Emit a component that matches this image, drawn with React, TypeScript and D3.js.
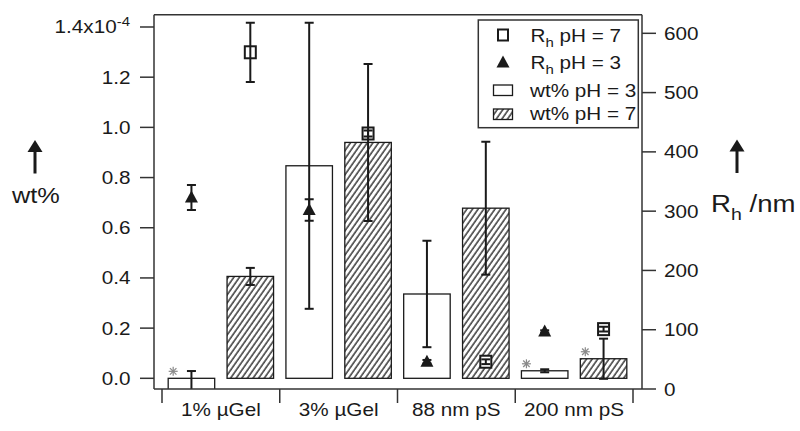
import React from "react";
import * as d3 from "d3";

const categories = ["1% µGel", "3% µGel", "88 nm pS", "200 nm pS"];
const seriesKeys = ["pH3", "pH7"];

// wt% (x 1e-4), bars
const wtPH3 = [-0.05, 0.847, 0.336, 0.03];
const wtPH3Err = [0.079, 0.57, 0.212, 0.006];
const wtPH7 = [0.406, 0.94, 0.678, 0.078];
const wtPH7Err = [0.034, 0.313, 0.265, 0.08];

// Rh /nm, markers on right axis
const rhPH3 = [323, 302, 46, 97];
const rhPH3Err = [21, 18, 3, 2];
const rhPH7 = [568, 431, 46, 101];
const rhPH7Err = [50, 5, 4, 4];

const leftTicks = [0, 0.2, 0.4, 0.6, 0.8, 1.0, 1.2, 1.4];
const rightTicks = [0, 100, 200, 300, 400, 500, 600];

// bars flagged with an asterisk
const starred = [
  { cat: 0, series: "pH3" },
  { cat: 3, series: "pH3" },
  { cat: 3, series: "pH7" }
];

const W = 800;
const H = 431;
const plot = { left: 154, right: 642, top: 14.7, bottom: 389 };
const FONT = "'Liberation Sans', Arial, sans-serif";
const INK = "#1a1a1a";
const SX = 1.15;

function Label({ x, y, size = 18, anchor = "start", children }: any) {
  return (
    <text
      transform={`translate(${x},${y}) scale(${SX},1)`}
      fontSize={size}
      fontFamily={FONT}
      textAnchor={anchor}
      fill={INK}
    >
      {children}
    </text>
  );
}

function Arrow({ x, y }: { x: number; y: number }) {
  return (
    <g fill={INK}>
      <path d={`M${x},${y} L${x - 7.5},${y + 12} L${x + 7.5},${y + 12} Z`} />
      <rect x={x - 1.5} y={y + 10} width={3} height={23.5} />
    </g>
  );
}

function ErrorBar({ x, y0, y1 }: { x: number; y0: number; y1: number }) {
  return (
    <g stroke={INK} strokeWidth={2}>
      <line x1={x} x2={x} y1={y0} y2={y1} />
      <line x1={x - 4.5} x2={x + 4.5} y1={y0} y2={y0} />
      <line x1={x - 4.5} x2={x + 4.5} y1={y1} y2={y1} />
    </g>
  );
}

function Square({ x, y }: { x: number; y: number }) {
  return <rect x={x - 5.5} y={y - 6} width={11} height={12} fill="#fff" stroke={INK} strokeWidth={2} />;
}

function Triangle({ x, y }: { x: number; y: number }) {
  return <path d={`M${x},${y - 7} L${x + 6.5},${y + 5} L${x - 6.5},${y + 5} Z`} fill={INK} />;
}

function Star({ x, y }: { x: number; y: number }) {
  const r = 4.5;
  const d = r * 0.72;
  return (
    <g stroke="#8a8a8a" strokeWidth={1.2}>
      <line x1={x - r} x2={x + r} y1={y} y2={y} />
      <line x1={x} x2={x} y1={y - r} y2={y + r} />
      <line x1={x - d} x2={x + d} y1={y - d} y2={y + d} />
      <line x1={x - d} x2={x + d} y1={y + d} y2={y - d} />
    </g>
  );
}

export default function App() {
  const x0 = d3.scaleBand<string>().domain(categories).range([162, 633]).padding(0);
  const x1 = d3
    .scaleBand<string>()
    .domain(seriesKeys)
    .range([0, x0.bandwidth()])
    .paddingInner(0.21)
    .paddingOuter(0.105);
  const yL = d3.scaleLinear().domain([-0.0426, 1.449]).range([plot.bottom, plot.top]);
  const yR = d3.scaleLinear().domain([0, 631.4]).range([plot.bottom, plot.top]);

  const bars = categories.flatMap((c, i) => [
    { cat: i, series: "pH3", value: wtPH3[i], err: wtPH3Err[i] },
    { cat: i, series: "pH7", value: wtPH7[i], err: wtPH7Err[i] }
  ]);
  const barX = (cat: number, s: string) => (x0(categories[cat]) ?? 0) + (x1(s) ?? 0);
  const barCx = (cat: number, s: string) => barX(cat, s) + x1.bandwidth() / 2;

  const marks = categories.flatMap((c, i) => [
    { cat: i, series: "pH3", value: rhPH3[i], err: rhPH3Err[i] },
    { cat: i, series: "pH7", value: rhPH7[i], err: rhPH7Err[i] }
  ]);

  const boundaries = [...categories.map((c) => x0(c) ?? 0), x0.range()[1]];

  return (
    <svg width={W} height={H} style={{ position: "absolute", left: 0, top: 0, background: "#fff" }}>
      <defs>
        <pattern id="hatch" patternUnits="userSpaceOnUse" width={4.6} height={10} patternTransform="rotate(35)">
          <rect width={4.6} height={10} fill="#fff" />
          <line x1={1} x2={1} y1={0} y2={10} stroke={INK} strokeWidth={1.3} />
        </pattern>
        <clipPath id="plotClip">
          <rect x={plot.left} y={plot.top} width={plot.right - plot.left} height={plot.bottom - plot.top} />
        </clipPath>
      </defs>

      <g clipPath="url(#plotClip)">
        {bars.map((b) => {
          const yv = yL(b.value);
          const y0 = yL(0);
          return (
            <rect
              key={`bar-${b.cat}-${b.series}`}
              x={barX(b.cat, b.series)}
              y={Math.min(yv, y0)}
              width={x1.bandwidth()}
              height={Math.abs(y0 - yv)}
              fill={b.series === "pH7" ? "url(#hatch)" : "#fff"}
              stroke={INK}
              strokeWidth={1.3}
            />
          );
        })}

        {marks
          .filter((m) => m.series === "pH7")
          .map((m) => (
            <Square key={`sq-${m.cat}`} x={barCx(m.cat, m.series)} y={yR(m.value)} />
          ))}

        {bars.map((b) => (
          <ErrorBar
            key={`be-${b.cat}-${b.series}`}
            x={barCx(b.cat, b.series)}
            y0={yL(b.value + b.err)}
            y1={yL(b.value - b.err)}
          />
        ))}

        {marks.map((m) => (
          <ErrorBar
            key={`me-${m.cat}-${m.series}`}
            x={barCx(m.cat, m.series)}
            y0={yR(m.value + m.err)}
            y1={yR(m.value - m.err)}
          />
        ))}

        {marks
          .filter((m) => m.series === "pH3")
          .map((m) => (
            <Triangle key={`tr-${m.cat}`} x={barCx(m.cat, m.series)} y={yR(m.value)} />
          ))}

        {starred.map((s) => {
          const i = s.cat;
          const v = s.series === "pH3" ? wtPH3[i] : wtPH7[i];
          return <Star key={`st-${i}-${s.series}`} x={barX(i, s.series) + 5} y={yL(Math.max(0, v)) - 7} />;
        })}
      </g>

      {/* frame and axes */}
      <g stroke="#333" strokeWidth={1.5} fill="none">
        <line x1={plot.left} x2={plot.right} y1={plot.top} y2={plot.top} />
        <line x1={plot.left} x2={plot.left} y1={plot.top} y2={plot.bottom} />
        <line x1={plot.right} x2={plot.right} y1={plot.top} y2={plot.bottom} />
        <line x1={plot.left} x2={plot.right} y1={plot.bottom} y2={plot.bottom} />
        {leftTicks.map((t) => (
          <line key={`lt-${t}`} x1={plot.left - 14} x2={plot.left} y1={yL(t)} y2={yL(t)} />
        ))}
        {rightTicks.map((t) => (
          <line key={`rt-${t}`} x1={plot.right} x2={plot.right + 14} y1={yR(t)} y2={yR(t)} />
        ))}
        {boundaries.map((bx, i) => (
          <line key={`bt-${i}`} x1={bx} x2={bx} y1={plot.bottom} y2={plot.bottom + 14} />
        ))}
      </g>

      {leftTicks.map((t, i) =>
        i === leftTicks.length - 1 ? (
          <Label key={`ll-${t}`} x={130} y={yL(t) + 6.5} anchor="end">
            {t.toFixed(1)}x10
            <tspan dy={-8} fontSize={13}>-4</tspan>
          </Label>
        ) : (
          <Label key={`ll-${t}`} x={130.5} y={yL(t) + 6.5} anchor="end">
            {t.toFixed(1)}
          </Label>
        )
      )}
      {rightTicks.map((t) => (
        <Label key={`rl-${t}`} x={664} y={yR(t) + 6.5}>
          {t}
        </Label>
      ))}
      {categories.map((c) => (
        <Label key={`cl-${c}`} x={(x0(c) ?? 0) + x0.bandwidth() / 2} y={416} anchor="middle">
          {c}
        </Label>
      ))}

      {/* axis titles */}
      <Arrow x={35} y={140} />
      <Label x={12} y={202.5} size={22}>
        wt%
      </Label>
      <Arrow x={737} y={139.5} />
      <Label x={711} y={211.5} size={24}>
        R<tspan dy={8} fontSize={17}>h</tspan>
        <tspan dy={-8}> /nm</tspan>
      </Label>

      {/* legend */}
      <rect x={478.3} y={20} width={160} height={107.7} fill="#fff" stroke="#333" strokeWidth={1.5} />
      <rect x={498} y={29.5} width={10} height={11} fill="#fff" stroke={INK} strokeWidth={2} />
      <Label x={530.5} y={41.7}>
        R<tspan dy={5} fontSize={13}>h</tspan>
        <tspan dy={-5}> pH = 7</tspan>
      </Label>
      <Triangle x={503} y={62.5} />
      <Label x={530.5} y={69}>
        R<tspan dy={5} fontSize={13}>h</tspan>
        <tspan dy={-5}> pH = 3</tspan>
      </Label>
      <rect x={493.5} y={85} width={19} height={10.5} fill="#fff" stroke={INK} strokeWidth={1.3} />
      <Label x={530} y={96.7}>
        wt% pH = 3
      </Label>
      <rect x={493.5} y={109} width={19} height={10.5} fill="url(#hatch)" stroke={INK} strokeWidth={1.3} />
      <Label x={530} y={120}>
        wt% pH = 7
      </Label>
    </svg>
  );
}
